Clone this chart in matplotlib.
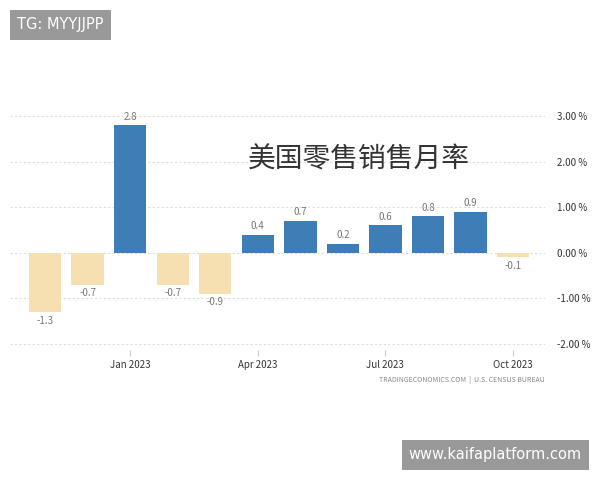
import matplotlib
matplotlib.use("Agg")
import matplotlib.pyplot as plt

plt.rcParams['font.family'] = ['Noto Sans CJK SC', 'DejaVu Sans']

months = ["Nov 2022","Dec 2022","Jan 2023","Feb 2023","Mar 2023","Apr 2023","May 2023",
          "Jun 2023","Jul 2023","Aug 2023","Sep 2023","Oct 2023"]
values = [-1.3,-0.7,2.8,-0.7,-0.9,0.4,0.7,0.2,0.6,0.8,0.9,-0.1]
xtick_idx = [2,5,8,11]
xtick_labels = ["Jan 2023","Apr 2023","Jul 2023","Oct 2023"]
yticks = [3,2,1,0,-1,-2]
ytick_labels = ["3.00 %","2.00 %","1.00 %","0.00 %","-1.00 %","-2.00 %"]

fig = plt.figure(figsize=(6,4.8), dpi=100)
ax = fig.add_axes([0.017, 0.271, 0.892, 0.51])
x = list(range(len(values)))
colors = ['#3f7db6' if v >= 0 else '#f6dfb1' for v in values]
ax.bar(x, values, width=0.76, color=colors, zorder=3)
for xi, v in zip(x, values):
    if v >= 0:
        ax.text(xi, v+0.08, f"{v:g}", ha='center', va='bottom', fontsize=7, color='#777777')
    else:
        ax.text(xi, v-0.08, f"{v:g}", ha='center', va='top', fontsize=7, color='#777777')
ax.set_xlim(-0.82, 11.76)
ax.set_ylim(-2.13, 3.24)
ax.yaxis.tick_right()
ax.set_yticks(yticks)
ax.set_yticklabels(ytick_labels, fontsize=7, color='#333333')
ax.set_xticks(xtick_idx)
ax.set_xticklabels(xtick_labels, fontsize=7, color='#333333')
ax.tick_params(axis='y', length=0, pad=8)
ax.tick_params(axis='x', length=4, color='#cccccc')
ax.grid(axis='y', linestyle=(0,(2,2)), color='#dddddd', linewidth=0.8, zorder=0)
for s in ax.spines.values():
    s.set_visible(False)
ax.text(0.652, 0.776, "美国零售销售月率", transform=ax.transAxes, ha='center', va='center',
        fontsize=20, color='#333333')

fig.text(545/600, 1-380/480, "TRADINGECONOMICS.COM  |  U.S. CENSUS BUREAU", ha='right', va='center',
         fontsize=5, color='#888888')
fig.text(17/600, 1-25/480, "TG: MYYJJPP", ha='left', va='center', fontsize=10.5, color='white',
         family='DejaVu Sans', bbox=dict(boxstyle='square,pad=0.5', fc='#999999', ec='none'))
fig.text(582/600, 1-455/480, "www.kaifaplatform.com", ha='right', va='center', fontsize=10.5, color='white',
         family='DejaVu Sans', bbox=dict(boxstyle='square,pad=0.5', fc='#999999', ec='none'))
fig.savefig("out.png", dpi=100)
